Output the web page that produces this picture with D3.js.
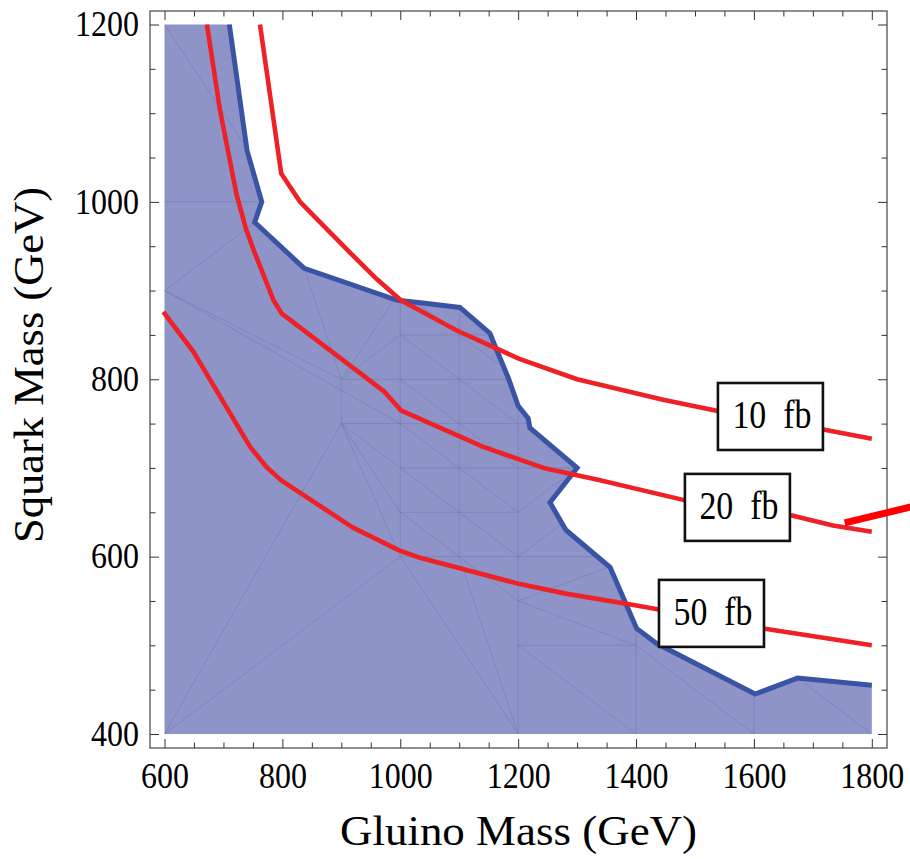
<!DOCTYPE html>
<html>
<head>
<meta charset="utf-8">
<script src="https://cdn.jsdelivr.net/npm/d3@7"></script>
<style>
    body { margin: 0; background: #fff; }
    svg { display: block; }
    text { font-family: "Liberation Serif", "Times New Roman", serif; fill: #000; }
</style>
</head>
<body>
<svg id="chart" width="910" height="859"></svg>
<script>
// axes
const gluinoDomain = [600, 1800];
const squarkDomain = [400, 1200];
const xTickValues = [600, 800, 1000, 1200, 1400, 1600, 1800];
const yTickValues = [400, 600, 800, 1000, 1200];
const minorStep = 50;

// excluded region boundary (gluino, squark)
const exclusionContour = [
    [710, 1200], [740, 1058], [765, 1000], [753, 977], [837, 925], [995, 889],
    [1038, 886], [1101, 881], [1152, 852], [1166, 829], [1183, 802], [1200, 770],
    [1217, 756], [1220, 745], [1300, 700], [1254, 661], [1281, 630], [1356, 588],
    [1401, 519], [1435, 502], [1602, 445], [1674, 463], [1800, 455]
];

// cross-section contours
const xsec10 = [
    [762, 1200], [798, 1032], [830, 1000], [855, 983], [916, 942], [960, 913],
    [1001, 889], [1096, 855], [1202, 823], [1300, 800], [1446, 777], [1584, 758],
    [1720, 743], [1800, 733]
];
const xsec20 = [
    [672, 1200], [694, 1104], [722, 1009], [738, 970], [751, 946], [785, 889],
    [799, 874], [973, 786], [1001, 765], [1140, 724], [1243, 700], [1339, 686],
    [1480, 664], [1661, 647], [1734, 635], [1800, 628]
];
const xsec50 = [
    [598, 876], [649, 831], [745, 724], [773, 701], [798, 686], [919, 633],
    [998, 607], [1032, 599], [1203, 569], [1283, 558], [1401, 545], [1616, 519],
    [1800, 500]
];

const contourLabels = [
    { text: "10  fb", x: 1628, y: 758 },
    { text: "20  fb", x: 1572, y: 655.5 },
    { text: "50  fb", x: 1528, y: 536 }
];

// arrow stub on the right (runs off the page)
const arrowStub = [[1754, 638], [1866, 656]];

// faint triangulation mesh of the interpolation
const meshEdges = [
    [[600, 1200], [800, 1000]], [[600, 1000], [800, 1000]], [[600, 900], [800, 1000]],
    [[600, 900], [900, 800]], [[600, 900], [1000, 750]], [[600, 400], [900, 750]],
    [[600, 400], [1000, 600]], [[800, 1000], [900, 800]], [[900, 800], [1000, 900]],
    [[900, 800], [1000, 850]], [[900, 800], [1000, 800]], [[900, 800], [900, 750]],
    [[900, 750], [1000, 750]], [[900, 750], [1000, 700]], [[900, 750], [1000, 650]],
    [[900, 750], [1000, 600]],
    [[1000, 900], [1000, 600]], [[1100, 900], [1100, 600]], [[1200, 800], [1200, 400]],
    [[1400, 600], [1400, 400]], [[1600, 500], [1600, 400]],
    [[1000, 850], [1200, 850]], [[1000, 800], [1200, 800]], [[1000, 750], [1250, 750]],
    [[1000, 700], [1300, 700]], [[1000, 650], [1200, 650]], [[1000, 600], [1400, 600]],
    [[1200, 500], [1400, 500]],
    [[1000, 900], [1100, 850]], [[1000, 850], [1100, 800]], [[1000, 800], [1100, 750]],
    [[1000, 750], [1100, 700]], [[1000, 700], [1100, 650]], [[1000, 650], [1100, 600]],
    [[1100, 850], [1200, 800]], [[1100, 800], [1200, 750]], [[1100, 750], [1200, 700]],
    [[1100, 700], [1200, 650]], [[1100, 650], [1200, 600]], [[1100, 600], [1200, 550]],
    [[1000, 600], [1200, 400]], [[1100, 600], [1200, 400]],
    [[1200, 650], [1300, 700]], [[1200, 600], [1300, 650]], [[1200, 550], [1400, 600]],
    [[1200, 550], [1400, 500]], [[1200, 500], [1400, 400]], [[1400, 500], [1600, 400]],
    [[1600, 500], [1800, 400]]
];

const ctx = {
    FRAME_LEFT: 150,
    FRAME_RIGHT: 887,
    FRAME_TOP: 11,
    FRAME_BOTTOM: 748,

    MAJOR_TICK: 9,
    MINOR_TICK: 5.5,

    FILL: "#8e94c8",
    BLUE: "#3954a5",
    RED: "#ed2126",

    BOX_W: 105,
    BOX_H: 67,

    DIGIT_W: 16, // width per digit of tick labels
};

const svg = d3.select('#chart');
const x = d3.scaleLinear().domain(gluinoDomain).range([164.5, 871.8]);
const y = d3.scaleLinear().domain(squarkDomain).range([734, 24.5]);
const line = d3.line().x(d => x(d[0])).y(d => y(d[1]));

main();

function main() {
    drawRegion();
    drawCurves();
    drawAxes();
    drawLabels();
}

function drawRegion() {
    const polygon = [[gluinoDomain[0], squarkDomain[1]]]
        .concat(exclusionContour)
        .concat([[gluinoDomain[1], squarkDomain[0]], [gluinoDomain[0], squarkDomain[0]]]);

    svg.append("clipPath")
        .attr("id", "regionClip")
        .append("path")
        .attr("d", line(polygon) + "Z");

    svg.append("path")
        .attr("d", line(polygon) + "Z")
        .attr("fill", ctx.FILL);

    svg.append("g")
        .attr("clip-path", "url(#regionClip)")
        .selectAll("line")
        .data(meshEdges)
        .enter()
        .append("line")
        .attr("x1", d => x(d[0][0]))
        .attr("y1", d => y(d[0][1]))
        .attr("x2", d => x(d[1][0]))
        .attr("y2", d => y(d[1][1]))
        .attr("stroke", "#4a5398")
        .attr("stroke-opacity", 0.25)
        .attr("stroke-width", 0.9);

    svg.append("path")
        .attr("d", line(exclusionContour))
        .attr("fill", "none")
        .attr("stroke", ctx.BLUE)
        .attr("stroke-width", 5)
        .attr("stroke-linejoin", "miter");
}

function drawCurves() {
    [xsec10, xsec20, xsec50].forEach(series => {
        svg.append("path")
            .attr("d", line(series))
            .attr("fill", "none")
            .attr("stroke", ctx.RED)
            .attr("stroke-width", 4.6)
            .attr("stroke-linejoin", "round");
    });
}

function drawAxes() {
    const xMinor = d3.range(gluinoDomain[0], gluinoDomain[1] + 1, minorStep).filter(v => v % 200 !== 0);
    const yMinor = d3.range(squarkDomain[0], squarkDomain[1] + 1, minorStep).filter(v => v % 200 !== 0);

    const axes = [
        { gen: d3.axisBottom, scale: x, pos: `translate(0,${ctx.FRAME_BOTTOM})`, major: xTickValues, minor: xMinor, labels: true, pad: 15 },
        { gen: d3.axisTop, scale: x, pos: `translate(0,${ctx.FRAME_TOP})`, major: xTickValues, minor: xMinor, labels: false },
        { gen: d3.axisLeft, scale: y, pos: `translate(${ctx.FRAME_LEFT},0)`, major: yTickValues, minor: yMinor, labels: true, pad: 11 },
        { gen: d3.axisRight, scale: y, pos: `translate(${ctx.FRAME_RIGHT},0)`, major: yTickValues, minor: yMinor, labels: false },
    ];

    axes.forEach(a => {
        const major = svg.append("g")
            .attr("transform", a.pos)
            .style("color", "#333")
            .call(a.gen(a.scale)
                .tickValues(a.major)
                .tickSize(-ctx.MAJOR_TICK)
                .tickPadding(a.pad || 0)
                .tickFormat(a.labels ? d3.format("d") : ""));
        major.select(".domain").remove();
        major.selectAll("text")
            .style("font-family", '"Liberation Serif", serif')
            .style("font-size", "35px")
            .attr("fill", "#000")
            .attr("textLength", function () { return this.textContent.length * ctx.DIGIT_W; })
            .attr("lengthAdjust", "spacingAndGlyphs");

        const minor = svg.append("g")
            .attr("transform", a.pos)
            .style("color", "#333")
            .call(a.gen(a.scale)
                .tickValues(a.minor)
                .tickSize(-ctx.MINOR_TICK)
                .tickFormat(""));
        minor.select(".domain").remove();
    });

    svg.append("rect")
        .attr("x", ctx.FRAME_LEFT)
        .attr("y", ctx.FRAME_TOP)
        .attr("width", ctx.FRAME_RIGHT - ctx.FRAME_LEFT)
        .attr("height", ctx.FRAME_BOTTOM - ctx.FRAME_TOP)
        .attr("fill", "none")
        .attr("stroke", "#444")
        .attr("stroke-width", 1.2);

    svg.append("text")
        .attr("x", (ctx.FRAME_LEFT + ctx.FRAME_RIGHT) / 2)
        .attr("y", 845)
        .attr("text-anchor", "middle")
        .attr("textLength", 357)
        .attr("lengthAdjust", "spacingAndGlyphs")
        .style("font-size", "42px")
        .text("Gluino Mass (GeV)");

    svg.append("text")
        .attr("transform", "translate(43,365) rotate(-90)")
        .attr("text-anchor", "middle")
        .attr("textLength", 356)
        .attr("lengthAdjust", "spacingAndGlyphs")
        .style("font-size", "43px")
        .text("Squark Mass (GeV)");
}

function drawLabels() {
    const boxes = svg.selectAll(".contour-label")
        .data(contourLabels)
        .enter()
        .append("g")
        .attr("class", "contour-label")
        .attr("transform", d => `translate(${x(d.x)},${y(d.y)})`);

    boxes.append("rect")
        .attr("x", -ctx.BOX_W / 2)
        .attr("y", -ctx.BOX_H / 2)
        .attr("width", ctx.BOX_W)
        .attr("height", ctx.BOX_H)
        .attr("fill", "#fff")
        .attr("stroke", "#111")
        .attr("stroke-width", 2.6);

    boxes.append("text")
        .attr("x", 1.5)
        .attr("y", 12)
        .attr("text-anchor", "middle")
        .attr("textLength", 79)
        .attr("lengthAdjust", "spacingAndGlyphs")
        .style("font-size", "41px")
        .style("white-space", "pre")
        .text(d => d.text);

    svg.append("path")
        .attr("d", line(arrowStub))
        .attr("stroke", "#f00")
        .attr("stroke-width", 7)
        .attr("fill", "none");
}
</script>
</body>
</html>
